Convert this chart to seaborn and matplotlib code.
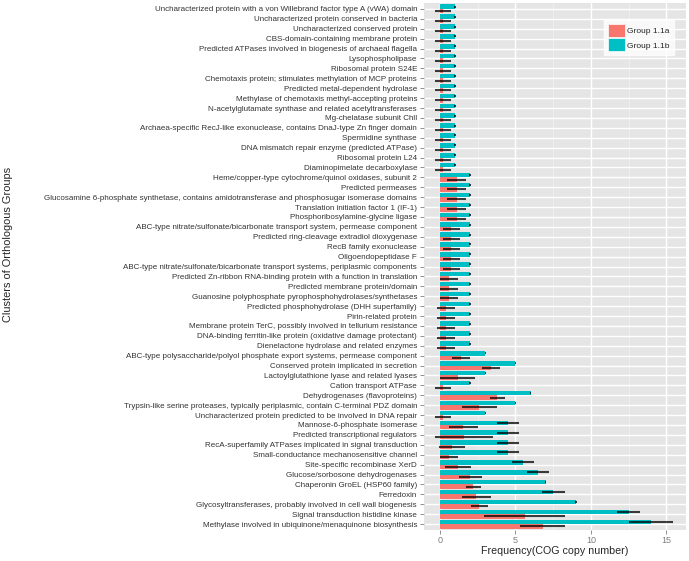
import numpy as np
import pandas as pd
import matplotlib
matplotlib.use("Agg")
import matplotlib.pyplot as plt
import seaborn as sns
from matplotlib.patches import Patch

categories = [
    "Uncharacterized protein with a von Willebrand factor type A (vWA) domain",
    "Uncharacterized protein conserved in bacteria",
    "Uncharacterized conserved protein",
    "CBS-domain-containing membrane protein",
    "Predicted ATPases involved in biogenesis of archaeal flagella",
    "Lysophospholipase",
    "Ribosomal protein S24E",
    "Chemotaxis protein; stimulates methylation of MCP proteins",
    "Predicted metal-dependent hydrolase",
    "Methylase of chemotaxis methyl-accepting proteins",
    "N-acetylglutamate synthase and related acetyltransferases",
    "Mg-chelatase subunit ChlI",
    "Archaea-specific RecJ-like exonuclease, contains DnaJ-type Zn finger domain",
    "Spermidine synthase",
    "DNA mismatch repair enzyme (predicted ATPase)",
    "Ribosomal protein L24",
    "Diaminopimelate decarboxylase",
    "Heme/copper-type cytochrome/quinol oxidases, subunit 2",
    "Predicted permeases",
    "Glucosamine 6-phosphate synthetase, contains amidotransferase and phosphosugar isomerase domains",
    "Translation initiation factor 1 (IF-1)",
    "Phosphoribosylamine-glycine ligase",
    "ABC-type nitrate/sulfonate/bicarbonate transport system, permease component",
    "Predicted ring-cleavage extradiol dioxygenase",
    "RecB family exonuclease",
    "Oligoendopeptidase F",
    "ABC-type nitrate/sulfonate/bicarbonate transport systems, periplasmic components",
    "Predicted Zn-ribbon RNA-binding protein with a function in translation",
    "Predicted membrane protein/domain",
    "Guanosine polyphosphate pyrophosphohydrolases/synthetases",
    "Predicted phosphohydrolase (DHH superfamily)",
    "Pirin-related protein",
    "Membrane protein TerC, possibly involved in tellurium resistance",
    "DNA-binding ferritin-like protein (oxidative damage protectant)",
    "Dienelactone hydrolase and related enzymes",
    "ABC-type polysaccharide/polyol phosphate export systems, permease component",
    "Conserved protein implicated in secretion",
    "Lactoylglutathione lyase and related lyases",
    "Cation transport ATPase",
    "Dehydrogenases (flavoproteins)",
    "Trypsin-like serine proteases, typically periplasmic, contain C-terminal PDZ domain",
    "Uncharacterized protein predicted to be involved in DNA repair",
    "Mannose-6-phosphate isomerase",
    "Predicted transcriptional regulators",
    "RecA-superfamily ATPases implicated in signal transduction",
    "Small-conductance mechanosensitive channel",
    "Site-specific recombinase XerD",
    "Glucose/sorbosone dehydrogenases",
    "Chaperonin GroEL (HSP60 family)",
    "Ferredoxin",
    "Glycosyltransferases, probably involved in cell wall biogenesis",
    "Signal transduction histidine kinase",
    "Methylase involved in ubiquinone/menaquinone biosynthesis",
]

group_a_mean = [0.2] * 17 + [1.1] * 5 + [0.75] * 5 + [0.6] * 3 + [0.4] * 5 + [
    1.4, 3.4, 1.17, 0.2, 3.8, 2.6, 0.2, 1.55, 1.6, 0.8, 0.57, 1.2, 2.0, 2.2, 2.4, 2.6, 5.6, 6.8]
group_a_sd = [0.5] * 17 + [0.65] * 5 + [0.55] * 5 + [0.6] * 3 + [0.57] * 5 + [
    0.6, 0.6, 1.17, 0.5, 0.48, 1.15, 0.5, 0.95, 1.9, 0.85, 0.6, 0.85, 0.75, 0.5, 0.95, 0.55, 2.7, 1.5]
group_b_mean = [1.0] * 17 + [2.0] * 18 + [
    3.0, 5.0, 3.0, 2.0, 6.0, 5.0, 3.0, 4.5, 4.5, 4.5, 4.5, 5.5, 6.5, 7.0, 7.5, 9.0, 12.5, 14.0]
group_b_sd = [0.05] * 35 + [
    0.05, 0.05, 0.05, 0.05, 0.05, 0.05, 0.05, 0.75, 0.75, 0.75, 0.75, 0.75, 0.75, 0.05, 0.75, 0.05, 0.75, 1.45]

groups = ["Group 1.1a", "Group 1.1b"]
colors = {"Group 1.1a": "#F8766D", "Group 1.1b": "#00BFC4"}

df = pd.concat([
    pd.DataFrame({"cog": categories, "value": group_a_mean, "sd": group_a_sd, "group": groups[0]}),
    pd.DataFrame({"cog": categories, "value": group_b_mean, "sd": group_b_sd, "group": groups[1]}),
], ignore_index=True)

sns.set_style("white")
plt.rcParams["font.family"] = ["Liberation Sans", "DejaVu Sans"]

W, H = 689, 561
fig = plt.figure(figsize=(W / 100, H / 100), dpi=100)
L, R, T, B = 424, 686, 3, 530
ax = fig.add_axes([L / W, 1 - B / H, (R - L) / W, (B - T) / H])
ax.set_facecolor("#E5E5E5")

draw_order = ["Group 1.1b", "Group 1.1a"]
sns.barplot(data=df, y="cog", x="value", hue="group", order=categories,
            hue_order=draw_order, orient="h", errorbar=None, width=0.9,
            palette=colors, saturation=1, legend=False, ax=ax, zorder=3,
            edgecolor="none", linewidth=0)

for cont, g in zip(ax.containers, draw_order):
    sub = df[df["group"] == g].set_index("cog").loc[categories]
    ys = [b.get_y() + b.get_height() / 2 for b in cont]
    xs = [b.get_width() for b in cont]
    ax.errorbar(xs, ys, xerr=sub["sd"].values, fmt="none", ecolor="black",
                elinewidth=1.5, alpha=0.75, capsize=0, zorder=4)

ax.set_xlim(-1.06, 16.3)
ax.set_ylim(len(categories) - 0.4, -0.6)
ax.set_xticks([0, 5, 10, 15])
ax.set_xticks([2.5, 7.5, 12.5], minor=True)
ax.grid(True, which="major", axis="both", color="white", linewidth=1.0, zorder=0)
ax.grid(True, which="minor", axis="x", color="#F2F2F2", linewidth=0.5, zorder=0)
ax.set_axisbelow(True)
for s in ax.spines.values():
    s.set_visible(False)

ax.tick_params(axis="y", which="major", length=3, width=0.6, color="#7F7F7F",
               labelsize=5.8, labelcolor="#333333", pad=2, left=True)
ax.tick_params(axis="x", which="major", length=3, width=0.6, color="#7F7F7F",
               labelsize=6.5, labelcolor="#7F7F7F", pad=1, bottom=True)
ax.tick_params(axis="x", which="minor", length=0)

ax.set_xlabel("Frequency(COG copy number)", fontsize=7.7, labelpad=1)
ax.set_ylabel("Clusters of Orthologous Groups", fontsize=7.9, va="center")
ax.yaxis.set_label_coords((8 - L) / (R - L), (B - 244) / (B - T))

handles = [Patch(facecolor=colors[g], edgecolor="white", linewidth=0.5, label=g) for g in groups]
leg = ax.legend(handles=handles, loc="upper right",
                bbox_to_anchor=((678 - L) / (R - L), (B - 16) / (B - T)),
                frameon=True, fontsize=6.0, handlelength=2.0, handleheight=2.0,
                handletextpad=0.3, labelspacing=0.15, borderpad=0.5, fancybox=False)
leg.get_frame().set_facecolor("white")
leg.get_frame().set_edgecolor("white")

fig.savefig("out.png", dpi=100)
